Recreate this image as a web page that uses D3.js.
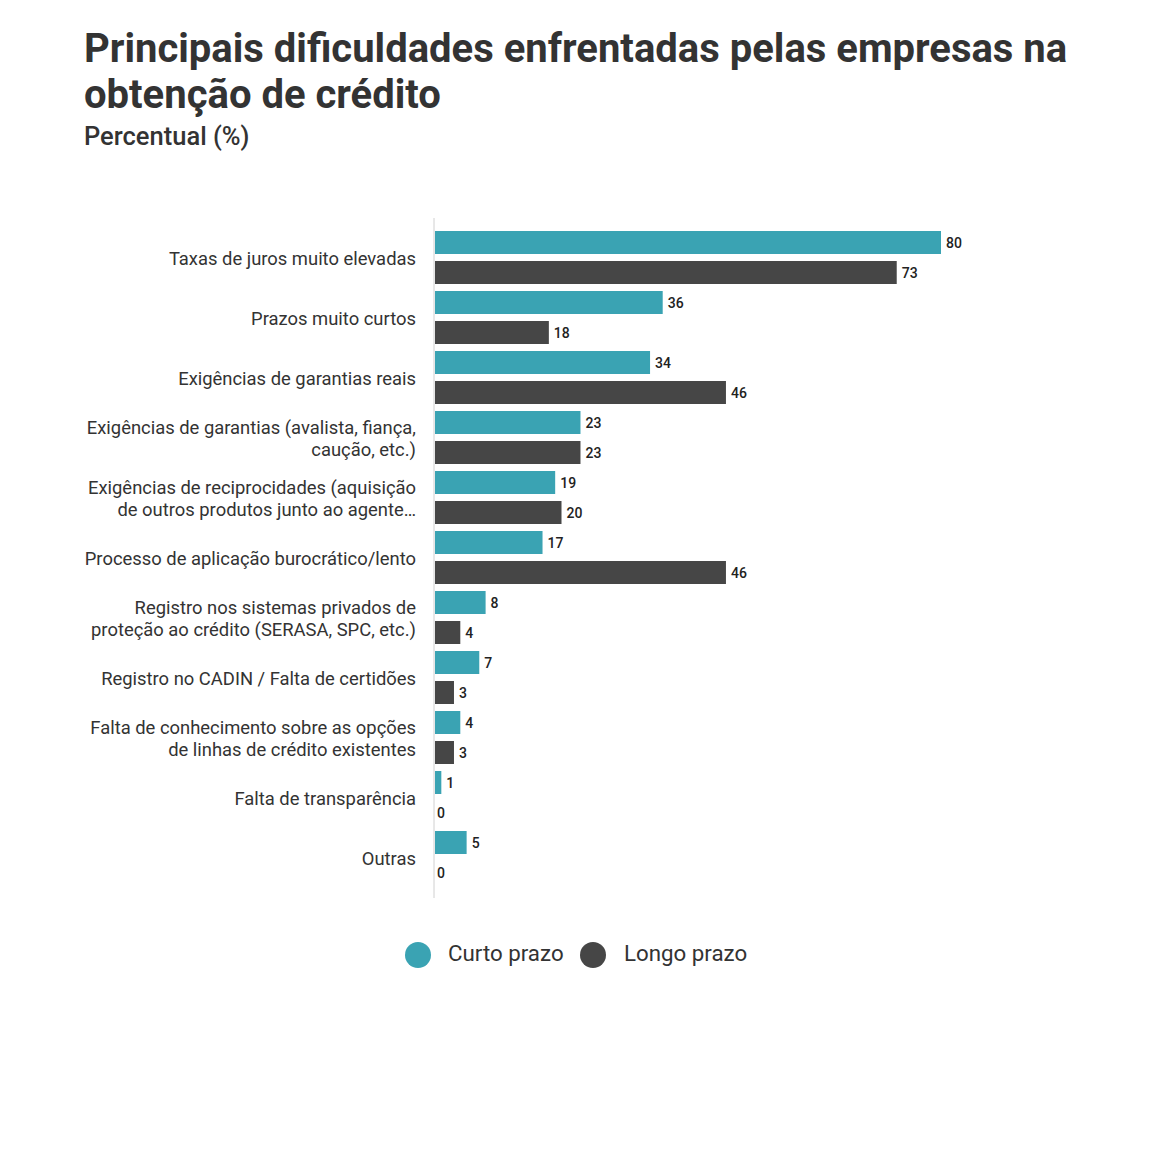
<!DOCTYPE html>
<html>
<head>
<meta charset="utf-8">
<script src="https://cdn.jsdelivr.net/npm/d3@7"></script>
<style>
  html, body { margin: 0; padding: 0; background: #fff; }
  svg { display: block; font-family: Roboto, "Noto Sans", sans-serif; }
</style>
</head>
<body>
<svg id="chart" width="1171" height="1161"></svg>
<script>
const categories = [
  "Taxas de juros muito elevadas",
  "Prazos muito curtos",
  "Exigências de garantias reais",
  "Exigências de garantias (avalista, fiança,\ncaução, etc.)",
  "Exigências de reciprocidades (aquisição\nde outros produtos junto ao agente…",
  "Processo de aplicação burocrático/lento",
  "Registro nos sistemas privados de\nproteção ao crédito (SERASA, SPC, etc.)",
  "Registro no CADIN / Falta de certidões",
  "Falta de conhecimento sobre as opções\nde linhas de crédito existentes",
  "Falta de transparência",
  "Outras"
];
const seriesNames = ["Curto prazo", "Longo prazo"];
const curtoPrazo = [80, 36, 34, 23, 19, 17, 8, 7, 4, 1, 5];
const longoPrazo = [73, 18, 46, 23, 20, 46, 4, 3, 3, 0, 0];
const colors = ["#3aa3b3", "#464646"];

const title1 = "Principais dificuldades enfrentadas pelas empresas na";
const title2 = "obtenção de crédito";
const subtitle = "Percentual (%)";

const svg = d3.select("#chart");

svg.append("text").attr("x", 84).attr("y", 62)
  .attr("font-size", 40).attr("font-weight", 700).attr("fill", "#333")
  .text(title1);
svg.append("text").attr("x", 84).attr("y", 108)
  .attr("font-size", 40).attr("font-weight", 700).attr("fill", "#333")
  .text(title2);
svg.append("text").attr("x", 84).attr("y", 145)
  .attr("font-size", 25.5).attr("font-weight", 500).attr("fill", "#333")
  .text(subtitle);

const data = categories.map((c, i) => ({ cat: c, values: [curtoPrazo[i], longoPrazo[i]] }));

const x = d3.scaleLinear().domain([0, 80]).range([435, 941]);
const y0 = d3.scaleBand().domain(categories).range([224, 884]).paddingInner(0).paddingOuter(0);
const y1 = d3.scaleBand().domain(seriesNames).range([0, y0.bandwidth()])
  .paddingInner(7 / 30).paddingOuter(7 / 60).align(1);

// axis line
svg.append("line").attr("x1", 434).attr("x2", 434).attr("y1", 218).attr("y2", 898)
  .attr("stroke", "#d0d0d0").attr("stroke-width", 1);

const groups = svg.append("g").selectAll("g").data(data).join("g")
  .attr("transform", d => `translate(0,${y0(d.cat)})`);

groups.selectAll("rect").data(d => d.values.map((v, j) => ({ key: seriesNames[j], v, j })))
  .join("rect")
  .attr("x", x(0))
  .attr("y", d => y1(d.key))
  .attr("width", d => x(d.v) - x(0))
  .attr("height", y1.bandwidth())
  .attr("fill", d => colors[d.j]);

groups.selectAll("text.val").data(d => d.values.map((v, j) => ({ key: seriesNames[j], v, j })))
  .join("text").attr("class", "val")
  .attr("x", d => x(d.v) + (d.v > 0 ? 5 : 2))
  .attr("y", d => y1(d.key) + y1.bandwidth() / 2 + 5)
  .attr("font-size", 14).attr("font-weight", 500).attr("fill", "#222")
  .text(d => d.v);

// category labels
groups.each(function(d) {
  const lines = d.cat.split("\n");
  const g = d3.select(this);
  const cy = y0.bandwidth() / 2 + 6;
  const lh = 22;
  const start = cy - (lines.length - 1) * lh / 2;
  lines.forEach((ln, k) => {
    g.append("text").attr("x", 416).attr("y", start + k * lh)
      .attr("text-anchor", "end").attr("dominant-baseline", "middle")
      .attr("font-size", 18.4).attr("fill", "#333")
      .text(ln);
  });
});

// legend
const legend = svg.append("g");
const legendItems = [
  { name: seriesNames[0], cx: 418, tx: 448 },
  { name: seriesNames[1], cx: 593, tx: 624 }
];
legendItems.forEach((it, i) => {
  legend.append("circle").attr("cx", it.cx).attr("cy", 955).attr("r", 13).attr("fill", colors[i]);
  legend.append("text").attr("x", it.tx).attr("y", 955).attr("dominant-baseline", "middle")
    .attr("font-size", 22.3).attr("fill", "#333").text(it.name);
});
</script>
</body>
</html>
